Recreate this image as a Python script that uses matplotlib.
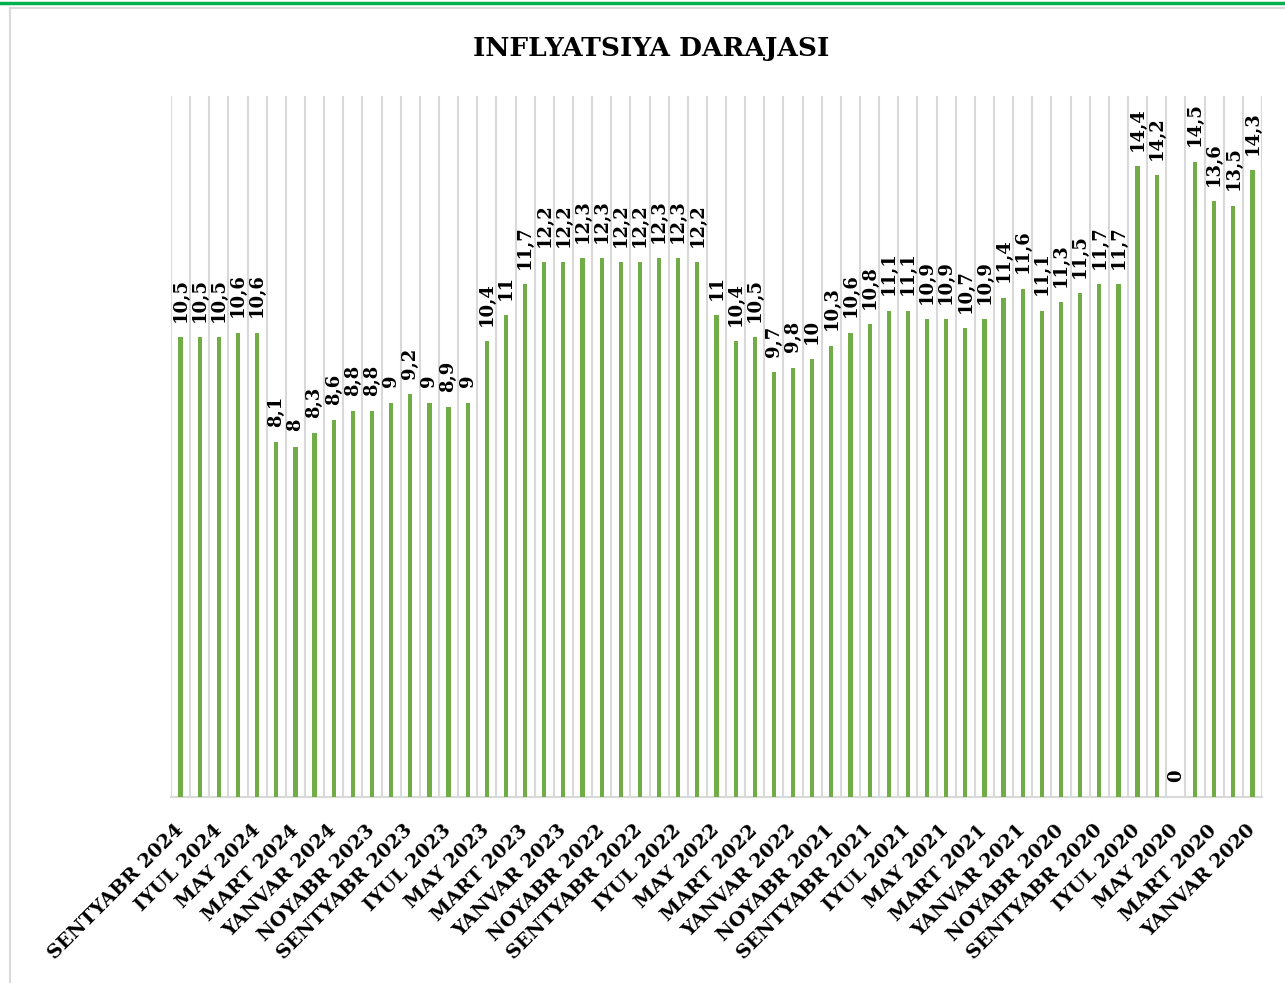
import matplotlib.pyplot as plt
from matplotlib.lines import Line2D
from matplotlib.patches import Rectangle
import numpy as np

# Oylar (Sentyabr 2024 -> Yanvar 2020)
oylar = [
    "SENTYABR 2024", "AVGUST 2024", "IYUL 2024", "IYUN 2024", "MAY 2024", "APREL 2024",
    "MART 2024", "FEVRAL 2024", "YANVAR 2024",
    "DEKABR 2023", "NOYABR 2023", "OKTYABR 2023", "SENTYABR 2023", "AVGUST 2023",
    "IYUL 2023", "IYUN 2023", "MAY 2023", "APREL 2023", "MART 2023", "FEVRAL 2023",
    "YANVAR 2023",
    "DEKABR 2022", "NOYABR 2022", "OKTYABR 2022", "SENTYABR 2022", "AVGUST 2022",
    "IYUL 2022", "IYUN 2022", "MAY 2022", "APREL 2022", "MART 2022", "FEVRAL 2022",
    "YANVAR 2022",
    "DEKABR 2021", "NOYABR 2021", "OKTYABR 2021", "SENTYABR 2021", "AVGUST 2021",
    "IYUL 2021", "IYUN 2021", "MAY 2021", "APREL 2021", "MART 2021", "FEVRAL 2021",
    "YANVAR 2021",
    "DEKABR 2020", "NOYABR 2020", "OKTYABR 2020", "SENTYABR 2020", "AVGUST 2020",
    "IYUL 2020", "IYUN 2020", "MAY 2020", "APREL 2020", "MART 2020", "FEVRAL 2020",
    "YANVAR 2020",
]

inflyatsiya = [
    10.5, 10.5, 10.5, 10.6, 10.6, 8.1, 8, 8.3, 8.6, 8.8, 8.8, 9, 9.2, 9, 8.9, 9,
    10.4, 11, 11.7, 12.2, 12.2, 12.3, 12.3, 12.2, 12.2, 12.3, 12.3, 12.2,
    11, 10.4, 10.5, 9.7, 9.8, 10, 10.3, 10.6, 10.8, 11.1, 11.1, 10.9, 10.9, 10.7,
    10.9, 11.4, 11.6, 11.1, 11.3, 11.5, 11.7, 11.7, 14.4, 14.2, 0, 14.5, 13.6,
    13.5, 14.3,
]

def fmt(v):
    # vergul bilan o'nli kasr
    if float(v).is_integer():
        return str(int(v))
    return f"{v:.1f}".replace(".", ",")

fig = plt.figure(figsize=(12.85, 9.83), dpi=100)

# yuqoridagi yashil chiziq va kulrang ramka
fig.add_artist(Line2D([0, 1], [0.9965, 0.9965], color="#00b050", lw=2.5,
                      transform=fig.transFigure))
fig.add_artist(Rectangle((10 / 1285, -0.1), 1.2, 1 - 8 / 983 + 0.1, fill=False,
                         edgecolor="#d9d9d9", lw=1.5, transform=fig.transFigure))

ax = fig.add_axes([171 / 1285, 186 / 983, 1091 / 1285, 701 / 983])

x = np.arange(len(inflyatsiya))
bars = ax.bar(x, inflyatsiya, width=0.22, color="#70ad47", zorder=3)

for xi, v in zip(x, inflyatsiya):
    ax.annotate(fmt(v), (xi, v), xytext=(0, 11), textcoords="offset points",
                rotation=90, ha="center", va="bottom", fontsize=13,
                fontweight="bold", family="DejaVu Serif", color="black")

ax.set_xlim(-0.5, len(inflyatsiya) - 0.5)
ax.set_ylim(0, 16)

# vertikal to'r chiziqlari
ax.set_xticks(np.arange(-0.5, len(inflyatsiya), 1), minor=True)
ax.grid(which="minor", axis="x", color="#d9d9d9", lw=1.5, zorder=0)
ax.tick_params(which="minor", length=0)

ax.set_xticks(x[::2])
ax.set_xticklabels(oylar[::2], rotation=45, ha="right", va="center",
                   rotation_mode="anchor", fontsize=14, fontweight="bold",
                   family="DejaVu Serif")
ax.tick_params(axis="x", which="major", length=0, pad=22)
ax.set_yticks([])

for s in ["top", "left", "right"]:
    ax.spines[s].set_visible(False)
ax.spines["bottom"].set_color("#d9d9d9")
ax.spines["bottom"].set_linewidth(1.5)

fig.text(0.507, 0.951, "INFLYATSIYA DARAJASI", ha="center", va="center",
         fontsize=19, fontweight="bold", family="DejaVu Serif")

fig.savefig("out.png", dpi=100)
